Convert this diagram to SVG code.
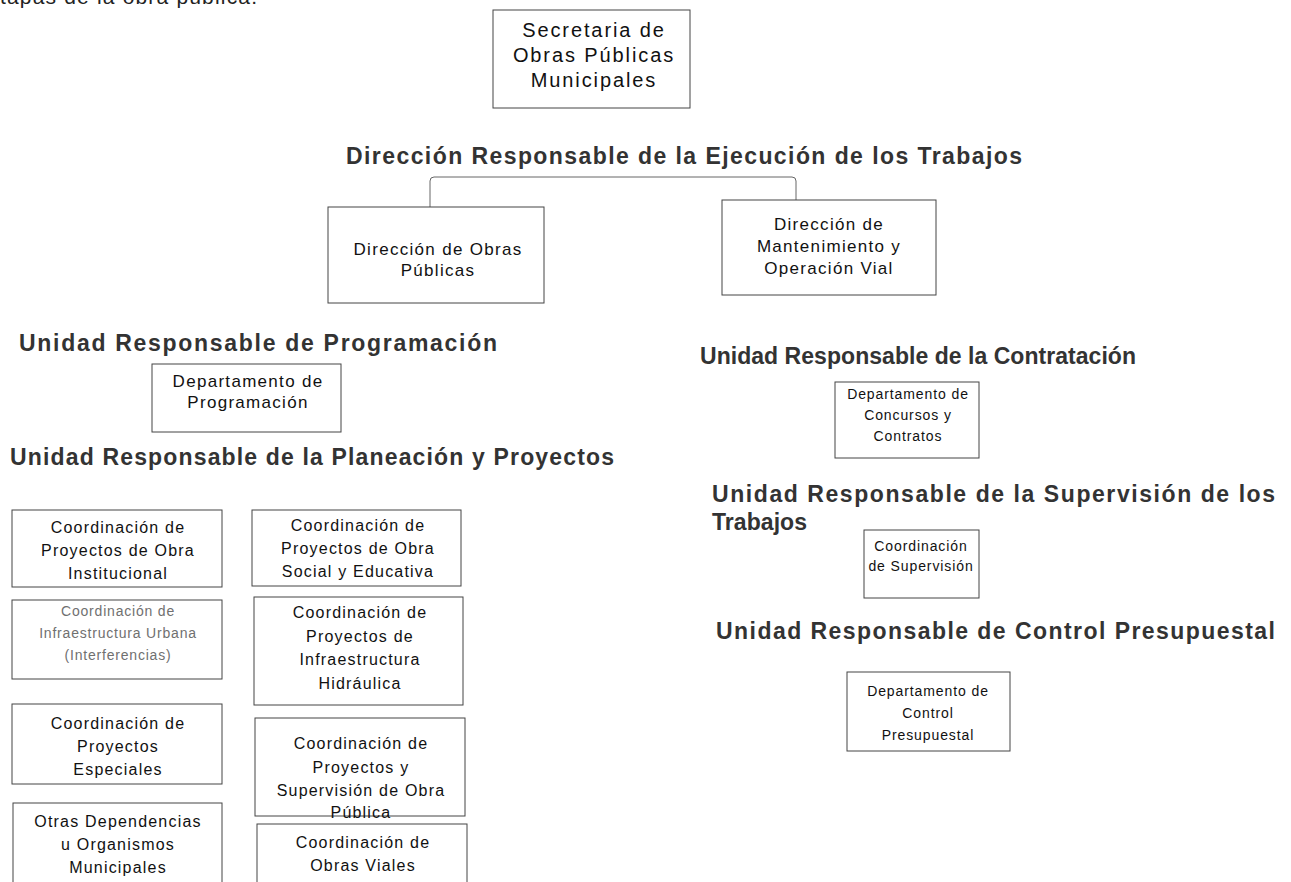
<svg xmlns="http://www.w3.org/2000/svg" width="1291" height="882" viewBox="0 0 1291 882">
<style>
.box{fill:#fff;stroke:#444;stroke-width:1}
.h{font-family:"Liberation Sans",Arial,sans-serif;font-weight:bold;font-size:23px;fill:#333}
.t{font-family:"Liberation Sans",Arial,sans-serif;font-size:16px;fill:#111;text-anchor:middle;letter-spacing:1.2px}
.s{font-family:"Liberation Sans",Arial,sans-serif;font-size:17px;fill:#111;text-anchor:middle;letter-spacing:1.3px}
.r{font-family:"Liberation Sans",Arial,sans-serif;font-size:14px;fill:#111;text-anchor:middle;letter-spacing:0.9px}
.g{font-family:"Liberation Sans",Arial,sans-serif;font-size:14px;fill:#707070;text-anchor:middle;letter-spacing:0.8px}
.big{font-family:"Liberation Sans",Arial,sans-serif;font-size:20px;fill:#111;text-anchor:middle;letter-spacing:1.9px}
.line{fill:none;stroke:#666;stroke-width:1}
</style>
<rect width="1291" height="882" fill="#fff"/>
<text x="0" y="4" font-family="Liberation Sans, Arial, sans-serif" font-size="21" fill="#222" textLength="257" lengthAdjust="spacing">tapas de la obra pública.</text>

<g id="connectors">
<path class="line" d="M430,207 V181 Q430,177 434,177 H792 Q796,177 796,181 V200"/>
</g>

<g id="headings">
<text class="h" x="346" y="164" textLength="676" lengthAdjust="spacing">Dirección Responsable de la Ejecución de los Trabajos</text>
<text class="h" x="19" y="351" textLength="478" lengthAdjust="spacing">Unidad Responsable de Programación</text>
<text class="h" x="10" y="465" textLength="604" lengthAdjust="spacing">Unidad Responsable de la Planeación y Proyectos</text>
<text class="h" x="700" y="364" textLength="436" lengthAdjust="spacing">Unidad Responsable de la Contratación</text>
<text class="h" x="712" y="502" textLength="563" lengthAdjust="spacing">Unidad Responsable de la Supervisión de los</text>
<text class="h" x="712" y="530" textLength="95" lengthAdjust="spacing">Trabajos</text>
<text class="h" x="716" y="639" textLength="559" lengthAdjust="spacing">Unidad Responsable de Control Presupuestal</text>
</g>

<g id="secretaria">
<rect class="box" x="493" y="10" width="197" height="98"/>
<text class="big" x="594" y="37">Secretaria de</text>
<text class="big" x="594" y="62">Obras Públicas</text>
<text class="big" x="594" y="87">Municipales</text>
</g>

<g id="dir-obras">
<rect class="box" x="328" y="207" width="216" height="96"/>
<text class="s" x="438" y="255">Dirección de Obras</text>
<text class="s" x="438" y="276">Públicas</text>
</g>

<g id="dir-mant">
<rect class="box" x="722" y="200" width="214" height="95"/>
<text class="s" x="829" y="230">Dirección de</text>
<text class="s" x="829" y="252">Mantenimiento y</text>
<text class="s" x="829" y="274">Operación Vial</text>
</g>

<g id="dep-prog">
<rect class="box" x="152" y="364" width="189" height="68"/>
<text class="s" x="248" y="387">Departamento de</text>
<text class="s" x="248" y="408">Programación</text>
</g>

<g id="coord-inst">
<rect class="box" x="12" y="510" width="210" height="77"/>
<text class="t" x="118" y="533">Coordinación de</text>
<text class="t" x="118" y="556">Proyectos de Obra</text>
<text class="t" x="118" y="579">Institucional</text>
</g>

<g id="coord-infra">
<rect class="box" x="12" y="600" width="210" height="79"/>
<text class="g" x="118" y="616">Coordinación de</text>
<text class="g" x="118" y="638">Infraestructura Urbana</text>
<text class="g" x="118" y="660">(Interferencias)</text>
</g>

<g id="coord-esp">
<rect class="box" x="12" y="704" width="210" height="80"/>
<text class="t" x="118" y="729">Coordinación de</text>
<text class="t" x="118" y="752">Proyectos</text>
<text class="t" x="118" y="775">Especiales</text>
</g>

<g id="otras">
<rect class="box" x="13" y="803" width="209" height="90"/>
<text class="t" x="118" y="827">Otras Dependencias</text>
<text class="t" x="118" y="850">u Organismos</text>
<text class="t" x="118" y="873">Municipales</text>
</g>

<g id="coord-social">
<rect class="box" x="252" y="510" width="209" height="76"/>
<text class="t" x="358" y="531">Coordinación de</text>
<text class="t" x="358" y="554">Proyectos de Obra</text>
<text class="t" x="358" y="577">Social y Educativa</text>
</g>

<g id="coord-hidr">
<rect class="box" x="254" y="597" width="209" height="108"/>
<text class="t" x="360" y="618">Coordinación de</text>
<text class="t" x="360" y="642">Proyectos de</text>
<text class="t" x="360" y="665">Infraestructura</text>
<text class="t" x="360" y="689">Hidráulica</text>
</g>

<g id="coord-sup-obra">
<rect class="box" x="255" y="718" width="210" height="98"/>
<text class="t" x="361" y="749">Coordinación de</text>
<text class="t" x="361" y="773">Proyectos  y</text>
<text class="t" x="361" y="796">Supervisión de Obra</text>
<text class="t" x="361" y="818">Pública</text>
</g>

<g id="coord-viales">
<rect class="box" x="257" y="824" width="210" height="70"/>
<text class="t" x="363" y="848">Coordinación de</text>
<text class="t" x="363" y="871">Obras Viales</text>
</g>

<g id="dep-concursos">
<rect class="box" x="835" y="382" width="144" height="76"/>
<text class="r" x="908" y="399">Departamento de</text>
<text class="r" x="908" y="420">Concursos y</text>
<text class="r" x="908" y="441">Contratos</text>
</g>

<g id="coord-sup">
<rect class="box" x="864" y="530" width="115" height="68"/>
<text class="r" x="921" y="551">Coordinación</text>
<text class="r" x="921" y="571">de Supervisión</text>
</g>

<g id="dep-control">
<rect class="box" x="847" y="672" width="163" height="79"/>
<text class="r" x="928" y="696">Departamento de</text>
<text class="r" x="928" y="718">Control</text>
<text class="r" x="928" y="740">Presupuestal</text>
</g>
</svg>
